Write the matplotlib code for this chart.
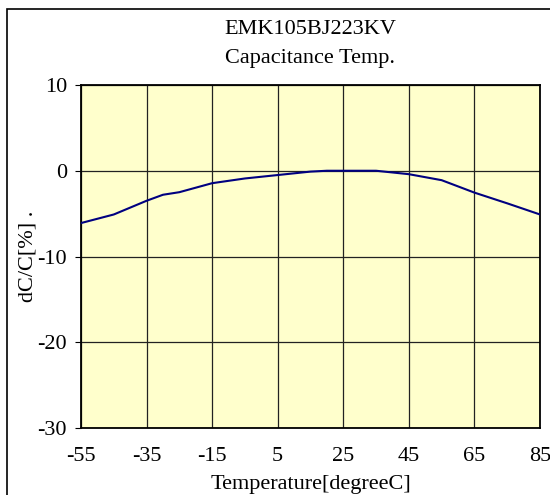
import matplotlib
matplotlib.use("Agg")
import matplotlib.pyplot as plt
from matplotlib.patches import Rectangle

plt.rcParams['font.family'] = ['Liberation Serif', 'DejaVu Serif']
plt.rcParams['axes.unicode_minus'] = False

# 温度特性データ
temp = [-55, -45, -35, -30, -25, -15, -5, 5, 15, 20, 25, 35, 45, 55, 65, 75, 85]
dcap = [-6.1, -5.1, -3.5, -2.8, -2.5, -1.45, -0.9, -0.5, -0.1, 0.0, 0.0, 0.0, -0.4, -1.1, -2.55, -3.8, -5.1]
xticks = [-55, -35, -15, 5, 25, 45, 65, 85]
yticks = [-30, -20, -10, 0, 10]

fs = 16

fig = plt.figure(figsize=(5.5, 4.95), dpi=100)
fig.patches.append(Rectangle((7 / 550, -0.5), 2.0, 1.5 - 9 / 495,
                             transform=fig.transFigure, fill=False,
                             edgecolor='black', linewidth=1.2))

ax = fig.add_axes([81 / 550, 1 - 428 / 495, 459 / 550, 343 / 495])
ax.set_facecolor('#FFFFCC')
ax.plot(temp, dcap, color='#000080', linewidth=1.5, zorder=3)

ax.set_xlim(-55, 85)
ax.set_ylim(-30, 10)
ax.set_xticks(xticks)
ax.set_yticks(yticks)
ax.grid(True, color='#222222', linewidth=0.9)
for s in ax.spines.values():
    s.set_linewidth(1.3)
ax.tick_params(axis='x', length=0, pad=14, labelsize=fs)
ax.tick_params(axis='y', length=4, direction='out', pad=6, labelsize=fs)

ax.set_xlabel('Temperature[degreeC]', fontsize=fs, labelpad=6)
ax.set_ylabel('dC/C[%] .', fontsize=fs)
ax.yaxis.set_label_coords(-0.094, 0.5)

fig.text(310 / 550, 1 - 29 / 495, 'EMK105BJ223KV', ha='center', va='center', fontsize=fs)
fig.text(310 / 550, 1 - 58 / 495, 'Capacitance Temp.', ha='center', va='center', fontsize=fs)

fig.savefig('out.png', dpi=100)
